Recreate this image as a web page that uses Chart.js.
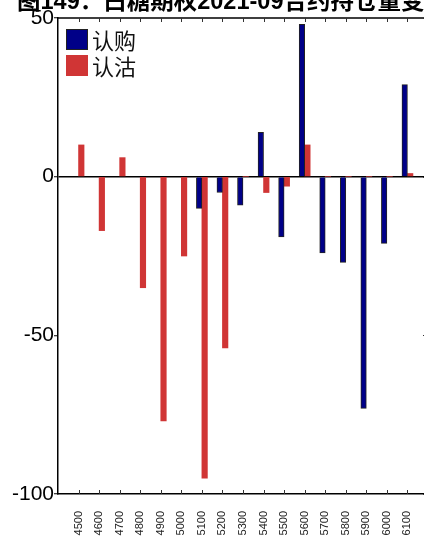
<!DOCTYPE html>
<html>
<head>
<meta charset="utf-8">
<script src="https://cdn.jsdelivr.net/npm/chart.js@4/dist/chart.umd.min.js"></script>
<style>
    html, body { margin: 0; padding: 0; background: #fff; overflow: hidden; }
    #wrap { position: relative; width: 424px; height: 536px; overflow: hidden; }
    #box { position: absolute; left: 0; top: 0; width: 440px; height: 536px; }
    #title {
        position: absolute; left: 17px; top: -18px; white-space: nowrap;
        font: bold 23.5px "Liberation Sans", "Noto Sans CJK SC", sans-serif; color: #000;
    }
    .leg { position: absolute; left: 66px; display: flex; align-items: center;
        font: 22px "Noto Sans CJK SC", sans-serif; color: #111; }
    .leg i { display: inline-block; width: 22px; height: 21px; margin-right: 4px; box-sizing: border-box; }
</style>
</head>
<body>
<div id="wrap">
    <div id="box"><canvas id="c"></canvas></div>
    <div id="title">图149：白糖期权2021-09合约持仓量变化</div>
    <div class="leg" style="top:23px"><i style="background:#000088;border:1px solid #222"></i>认购</div>
    <div class="leg" style="top:49px"><i style="background:#D03535"></i>认沽</div>
</div>
<script>
// strike prices
const strikes = [4500, 4600, 4700, 4800, 4900, 5000, 5100, 5200, 5300,
    5400, 5500, 5600, 5700, 5800, 5900, 6000, 6100];
// change in open interest
const callChange = [0, 0, 0, 0, 0, 0, -10, -5, -9, 14, -19, 48, -24, -27, -73, -21, 29];
const putChange = [10, -17, 6, -35, -77, -25, -95, -54, 0, -5, -3, 10, 0, 0, 0, 0, 1];
const yTicks = [-100, -50, 0, 50];

// frame + inward tick marks
const framePlugin = {
    id: 'frame',
    afterDraw(chart) {
        const { ctx, chartArea: a, scales } = chart;
        ctx.save();
        ctx.strokeStyle = '#000';
        ctx.lineWidth = 1.5;
        ctx.beginPath();
        ctx.moveTo(a.left, a.top);
        ctx.lineTo(a.right, a.top);
        ctx.lineTo(a.right, a.bottom);
        ctx.stroke();
        ctx.lineWidth = 1;
        ctx.strokeStyle = '#333';
        ctx.beginPath();
        strikes.forEach(function (s) {
            const x = Math.round(scales.x.getPixelForValue(s)) + 0.5;
            ctx.moveTo(x, a.bottom);
            ctx.lineTo(x, a.bottom - 4);
            ctx.moveTo(x, a.top);
            ctx.lineTo(x, a.top + 4);
        });
        yTicks.forEach(function (v) {
            const y = Math.round(scales.y.getPixelForValue(v)) + 0.5;
            ctx.moveTo(a.right, y);
            ctx.lineTo(a.right - 5, y);
        });
        ctx.stroke();
        ctx.restore();
    },
};

new Chart(document.getElementById('c'), {
    type: 'bar',
    data: {
        datasets: [
            {
                label: '认购',
                data: strikes.map(function (s, i) { return { x: s, y: callChange[i] }; }),
                backgroundColor: '#000088',
                borderColor: '#222',
                borderWidth: 1,
                barThickness: 5.5,
            },
            {
                label: '认沽',
                data: strikes.map(function (s, i) { return { x: s, y: putChange[i] }; }),
                backgroundColor: '#D03535',
                borderWidth: 0,
                barThickness: 5.5,
            },
        ],
    },
    options: {
        responsive: true,
        maintainAspectRatio: false,
        animation: false,
        layout: { padding: { top: 18, right: 12, left: 0, bottom: 0 } },
        plugins: { legend: { display: false }, tooltip: { enabled: false } },
        scales: {
            x: {
                type: 'linear',
                offset: false,
                min: 4400,
                max: 6200,
                afterBuildTicks: function (scale) {
                    scale.ticks = strikes.map(function (s) { return { value: s }; });
                },
                afterFit: function (scale) { scale.height = 42; },
                grid: { display: false, drawTicks: false, offset: false },
                border: { display: true, color: '#000', width: 1.5 },
                ticks: {
                    autoSkip: false,
                    minRotation: 90,
                    maxRotation: 90,
                    padding: 17,
                    color: '#222',
                    font: { family: 'Liberation Sans', size: 11 },
                    callback: function (v) { return String(v); },
                },
            },
            y: {
                min: -100,
                max: 50,
                afterBuildTicks: function (scale) {
                    scale.ticks = yTicks.map(function (v) { return { value: v }; });
                },
                afterFit: function (scale) { scale.width = 58; },
                grid: {
                    color: function (c) { return c.tick && c.tick.value === 0 ? '#000' : 'rgba(0,0,0,0)'; },
                    lineWidth: 1.5,
                    tickColor: '#000',
                    tickLength: 4,
                    tickWidth: 1,
                },
                border: { display: true, color: '#000', width: 1.5 },
                ticks: {
                    padding: 0,
                    color: '#000',
                    font: { family: 'Liberation Sans', size: 21 },
                },
            },
        },
    },
    plugins: [framePlugin],
});
</script>
</body>
</html>
